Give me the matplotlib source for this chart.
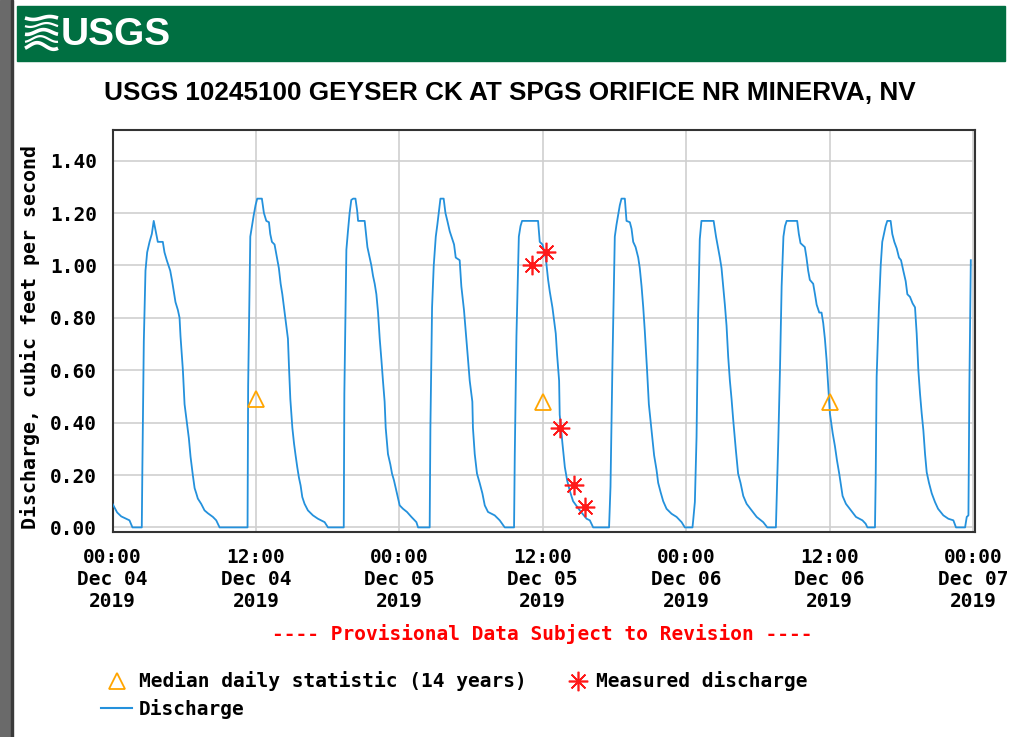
import numpy as np
import matplotlib
matplotlib.use("Agg")
import matplotlib.pyplot as plt
from matplotlib.patches import Rectangle

# ---------------- data (hours since 2019-12-04 00:00, discharge cfs) ----------------
hours = [
    0.00, 0.39, 0.73, 1.42, 1.67, 2.45, 2.50, 2.62, 2.76, 2.90, 3.10, 3.29, 3.45, 3.66, 3.79, 4.21, 4.35, 4.54,
    4.83, 4.99, 5.13, 5.27, 5.47, 5.61, 5.69, 5.89, 6.03, 6.22, 6.39, 6.53, 6.72, 6.87, 7.01, 7.14, 7.42, 7.70,
    7.98, 8.40, 8.68, 8.96,
    11.30, 11.35, 11.53, 11.67, 11.81, 11.97, 12.11, 12.50, 12.67, 12.87, 13.09, 13.20, 13.34, 13.56, 13.76,
    13.92, 14.07, 14.21, 14.35, 14.49, 14.68, 14.77, 14.88, 15.05, 15.19, 15.32, 15.46, 15.60, 15.74, 15.88,
    16.07, 16.35, 16.77, 17.19, 17.75, 18.03,
    19.35, 19.40, 19.57, 19.70, 19.84, 19.98, 20.14, 20.33, 20.47, 20.55, 21.10, 21.19, 21.33, 21.52, 21.66,
    21.80, 21.94, 22.08, 22.22, 22.36, 22.50, 22.63, 22.77, 22.86, 23.05, 23.25, 23.39, 23.55, 23.75, 23.95,
    24.03, 24.31, 24.64, 25.01, 25.43, 25.57,
    26.54, 26.60, 26.74, 26.88, 27.05, 27.18, 27.32, 27.44, 27.71, 27.86, 28.02, 28.22, 28.58, 28.72, 29.05,
    29.19, 29.41, 29.61, 29.75, 29.89, 30.11, 30.16, 30.31, 30.50, 30.72, 30.95, 31.15, 31.42, 31.98, 32.40,
    32.82,
    33.60, 33.66, 33.80, 34.00, 34.14, 34.27, 35.61, 35.75, 35.98, 36.25, 36.45, 36.59, 36.81, 37.09, 37.20,
    37.37, 37.42, 37.65, 37.85, 38.04, 38.26, 38.54, 39.10, 39.67, 39.94, 40.22,
    41.55, 41.67, 41.84, 42.03, 42.17, 42.30, 42.45, 42.59, 42.87, 43.01, 43.29, 43.43, 43.57, 43.77, 43.99,
    44.12, 44.27, 44.41, 44.54, 44.73, 44.88, 45.04, 45.18, 45.32, 45.52, 45.66, 45.86, 46.08, 46.36, 46.78,
    47.20, 47.62, 47.89,
    48.53, 48.59, 48.73, 48.87, 49.00, 49.14, 49.28, 50.30, 50.50, 50.68, 50.82, 50.96, 51.10, 51.24, 51.38,
    51.52, 51.66, 51.80, 51.93, 52.16, 52.35, 52.55, 52.78, 53.06, 53.48, 53.90, 54.45, 54.79,
    55.51, 55.57, 55.71, 55.85, 55.99, 56.14, 56.27, 56.41, 57.29, 57.43, 57.57, 57.93, 58.07, 58.21, 58.35,
    58.63, 58.78, 58.92, 59.14, 59.33, 59.47, 59.61, 59.75, 59.89, 60.03, 60.26, 60.45, 60.62, 60.81, 61.09,
    61.37, 61.79, 62.21, 62.75, 63.02, 63.17,
    63.80, 63.86, 63.94, 64.13, 64.28, 64.41, 64.55, 64.69, 64.83, 65.11, 65.25, 65.42, 65.62, 65.81, 65.98,
    66.17, 66.37, 66.51, 66.73, 66.95, 67.15, 67.29, 67.43, 67.57, 67.71, 67.85, 67.99, 68.13, 68.32, 68.55,
    68.82, 69.08, 69.52, 69.94, 70.36, 70.58, 71.34, 71.48, 71.62, 71.70, 71.82,
]
discharge = [
    0.09, 0.057, 0.042, 0.027, 0.0, 0.0, 0.23, 0.71, 0.98, 1.05, 1.09, 1.12, 1.17, 1.12, 1.09, 1.09, 1.05, 1.02,
    0.98, 0.94, 0.90, 0.86, 0.83, 0.80, 0.73, 0.60, 0.47, 0.40, 0.34, 0.27, 0.20, 0.15, 0.13, 0.11, 0.09, 0.065,
    0.054, 0.04, 0.027, 0.0,
    0.0, 0.54, 1.11, 1.15, 1.19, 1.23, 1.255, 1.255, 1.20, 1.17, 1.165, 1.12, 1.09, 1.08, 1.03,
    0.99, 0.93, 0.89, 0.84, 0.79, 0.72, 0.61, 0.49, 0.38, 0.32, 0.275, 0.23, 0.19, 0.16, 0.116,
    0.09, 0.065, 0.046, 0.033, 0.02, 0.0,
    0.0, 0.51, 1.06, 1.13, 1.20, 1.25, 1.255, 1.255, 1.21, 1.17, 1.17, 1.13, 1.07, 1.03, 1.00,
    0.96, 0.93, 0.89, 0.82, 0.72, 0.64, 0.56, 0.48, 0.38, 0.28, 0.24, 0.205, 0.18, 0.14, 0.10,
    0.084, 0.071, 0.059, 0.04, 0.02, 0.0,
    0.0, 0.38, 0.84, 1.00, 1.11, 1.155, 1.21, 1.255, 1.255, 1.20, 1.17, 1.13, 1.08, 1.03, 1.02,
    0.92, 0.83, 0.72, 0.64, 0.56, 0.48, 0.38, 0.28, 0.205, 0.17, 0.13, 0.084, 0.059, 0.046, 0.027,
    0.0,
    0.0, 0.275, 0.73, 1.11, 1.15, 1.17, 1.17, 1.09, 1.08, 1.03, 0.945, 0.90, 0.84, 0.74, 0.66,
    0.56, 0.43, 0.32, 0.23, 0.18, 0.14, 0.10, 0.065, 0.033, 0.027, 0.0,
    0.0, 0.155, 0.645, 1.11, 1.155, 1.19, 1.23, 1.255, 1.255, 1.17, 1.165, 1.14, 1.09, 1.07, 1.03,
    0.99, 0.92, 0.84, 0.75, 0.60, 0.47, 0.40, 0.34, 0.275, 0.22, 0.17, 0.135, 0.10, 0.071, 0.052,
    0.04, 0.02, 0.0,
    0.0, 0.027, 0.097, 0.345, 0.80, 1.10, 1.17, 1.17, 1.11, 1.065, 1.03, 0.99, 0.92, 0.85, 0.77,
    0.65, 0.56, 0.49, 0.415, 0.295, 0.205, 0.17, 0.12, 0.09, 0.065, 0.04, 0.02, 0.0,
    0.0, 0.10, 0.33, 0.60, 0.92, 1.11, 1.15, 1.17, 1.17, 1.12, 1.085, 1.07, 1.03, 0.98, 0.945,
    0.93, 0.89, 0.85, 0.82, 0.82, 0.78, 0.72, 0.64, 0.54, 0.435, 0.36, 0.31, 0.256, 0.205, 0.12,
    0.09, 0.065, 0.04, 0.027, 0.014, 0.0,
    0.0, 0.185, 0.575, 0.84, 1.00, 1.09, 1.12, 1.15, 1.17, 1.17, 1.12, 1.09, 1.065, 1.03, 1.02,
    0.98, 0.94, 0.89, 0.88, 0.855, 0.84, 0.74, 0.60, 0.51, 0.435, 0.37, 0.28, 0.21, 0.17, 0.13,
    0.097, 0.071, 0.046, 0.033, 0.027, 0.0, 0.0, 0.04, 0.046, 0.54, 1.02,
]

measured_hours = [35.14, 36.25, 37.48, 38.62, 39.52]
measured_values = [1.00, 1.05, 0.38, 0.16, 0.078]

median_hours = [12, 36, 60]
median_values = [0.49, 0.48, 0.48]

tick_hours = [0, 12, 24, 36, 48, 60, 72]
tick_labels = ["00:00\nDec 04\n2019", "12:00\nDec 04\n2019", "00:00\nDec 05\n2019",
               "12:00\nDec 05\n2019", "00:00\nDec 06\n2019", "12:00\nDec 06\n2019",
               "00:00\nDec 07\n2019"]
y_ticks = [0.0, 0.2, 0.4, 0.6, 0.8, 1.0, 1.2, 1.4]

title = "USGS 10245100 GEYSER CK AT SPGS ORIFICE NR MINERVA, NV"

# ---------------- styling ----------------
W, H = 1009, 737
MONO = "DejaVu Sans Mono"
NARROW = ["Liberation Sans Narrow", "Liberation Sans", "DejaVu Sans"]
BLUE = "#2491dc"
ORANGE = "#ffa500"
RED = "#ff1a1a"

fig = plt.figure(figsize=(W / 100, H / 100), dpi=100)
fig.patch.set_facecolor("white")

def fx(px):
    return px / W

def fy(py):
    return 1 - py / H

# decorative background layer in pixel coordinates
bg = fig.add_axes([0, 0, 1, 1])
bg.set_xlim(0, W)
bg.set_ylim(H, 0)
bg.axis("off")
bg.add_patch(Rectangle((0, 0), 11, H, color="#6a6a6a", zorder=1))
bg.add_patch(Rectangle((11, 0), 2, H, color="#3a3a3a", zorder=1))
bg.add_patch(Rectangle((17, 6), 988, 55, color="#006f41", zorder=1))
# wave icon
for i, off in enumerate([0, 7, 14, 21, 28]):
    xs = np.linspace(25, 58, 50)
    ys = 18 + off + 3.0 * np.sin((xs - 25) / 33 * 2 * np.pi + 0.6 * i) * (0.5 + 0.15 * i)
    bg.plot(xs, ys, color="white", lw=2.6 if i % 2 == 0 else 1.6, zorder=2, solid_capstyle="butt")
bg.text(61, 35, "USGS", color="white", fontsize=28, fontweight="bold",
        family=NARROW, ha="left", va="center", zorder=2)
bg.text(510, 93, title, color="black", fontsize=18.8, fontweight="bold",
        family=NARROW, ha="center", va="center", zorder=2)

# ---------------- main axes ----------------
ax_left, ax_right, ax_top, ax_bottom = 112.5, 975, 130, 532.3
ax = fig.add_axes([fx(ax_left), fy(ax_bottom), fx(ax_right - ax_left), (ax_bottom - ax_top) / H])
ax.plot(hours, discharge, color=BLUE, lw=1.3, zorder=3)
ax.plot(median_hours, median_values, linestyle="none", marker="^", markersize=11,
        markerfacecolor="none", markeredgecolor=ORANGE, markeredgewidth=1.3, zorder=4)
ax.plot(measured_hours, measured_values, linestyle="none", marker=(8, 2, 0), markersize=14,
        markeredgecolor=RED, markeredgewidth=1.2, color=RED, zorder=5)
ax.plot(measured_hours, measured_values, linestyle="none", marker="o", markersize=4,
        color=RED, zorder=5)

ax.set_xlim(0, 72.17)
ax.set_ylim(-0.0187, 1.517)
ax.set_xticks(tick_hours)
ax.set_xticklabels(tick_labels, family=MONO, fontweight="bold", fontsize=14, linespacing=1.22)
ax.set_yticks(y_ticks)
ax.set_yticklabels([f"{v:.2f}" for v in y_ticks], family=MONO, fontweight="bold", fontsize=14)
ax.tick_params(axis="both", length=0, pad=11)
ax.grid(True, color="#cfcfcf", lw=1.2)
ax.set_axisbelow(True)
for s in ax.spines.values():
    s.set_color("#333333")
    s.set_linewidth(1.5)
ax.set_ylabel("Discharge, cubic feet per second", family=MONO, fontweight="bold",
              fontsize=14.3, labelpad=5)
ax.yaxis.set_label_coords(-0.084, 0.485)

# provisional note
bg.text(542, 634, "---- Provisional Data Subject to Revision ----", color="red",
        family=MONO, fontweight="bold", fontsize=14, ha="center", va="center", zorder=2)

# legend (manual)
bg.plot([117], [681], linestyle="none", marker="^", markersize=12, markerfacecolor="none",
        markeredgecolor=ORANGE, markeredgewidth=1.3, zorder=3)
bg.text(139, 681, "Median daily statistic (14 years)", family=MONO, fontweight="bold",
        fontsize=14, ha="left", va="center", zorder=3)
bg.plot([578], [681], linestyle="none", marker=(8, 2, 0), markersize=14,
        markeredgecolor=RED, markeredgewidth=1.2, zorder=3)
bg.text(596, 681, "Measured discharge", family=MONO, fontweight="bold",
        fontsize=14, ha="left", va="center", zorder=3)
bg.plot([101, 132], [708, 708], color=BLUE, lw=1.5, zorder=3)
bg.text(139, 709, "Discharge", family=MONO, fontweight="bold",
        fontsize=14, ha="left", va="center", zorder=3)

fig.savefig("out.png", dpi=100)
